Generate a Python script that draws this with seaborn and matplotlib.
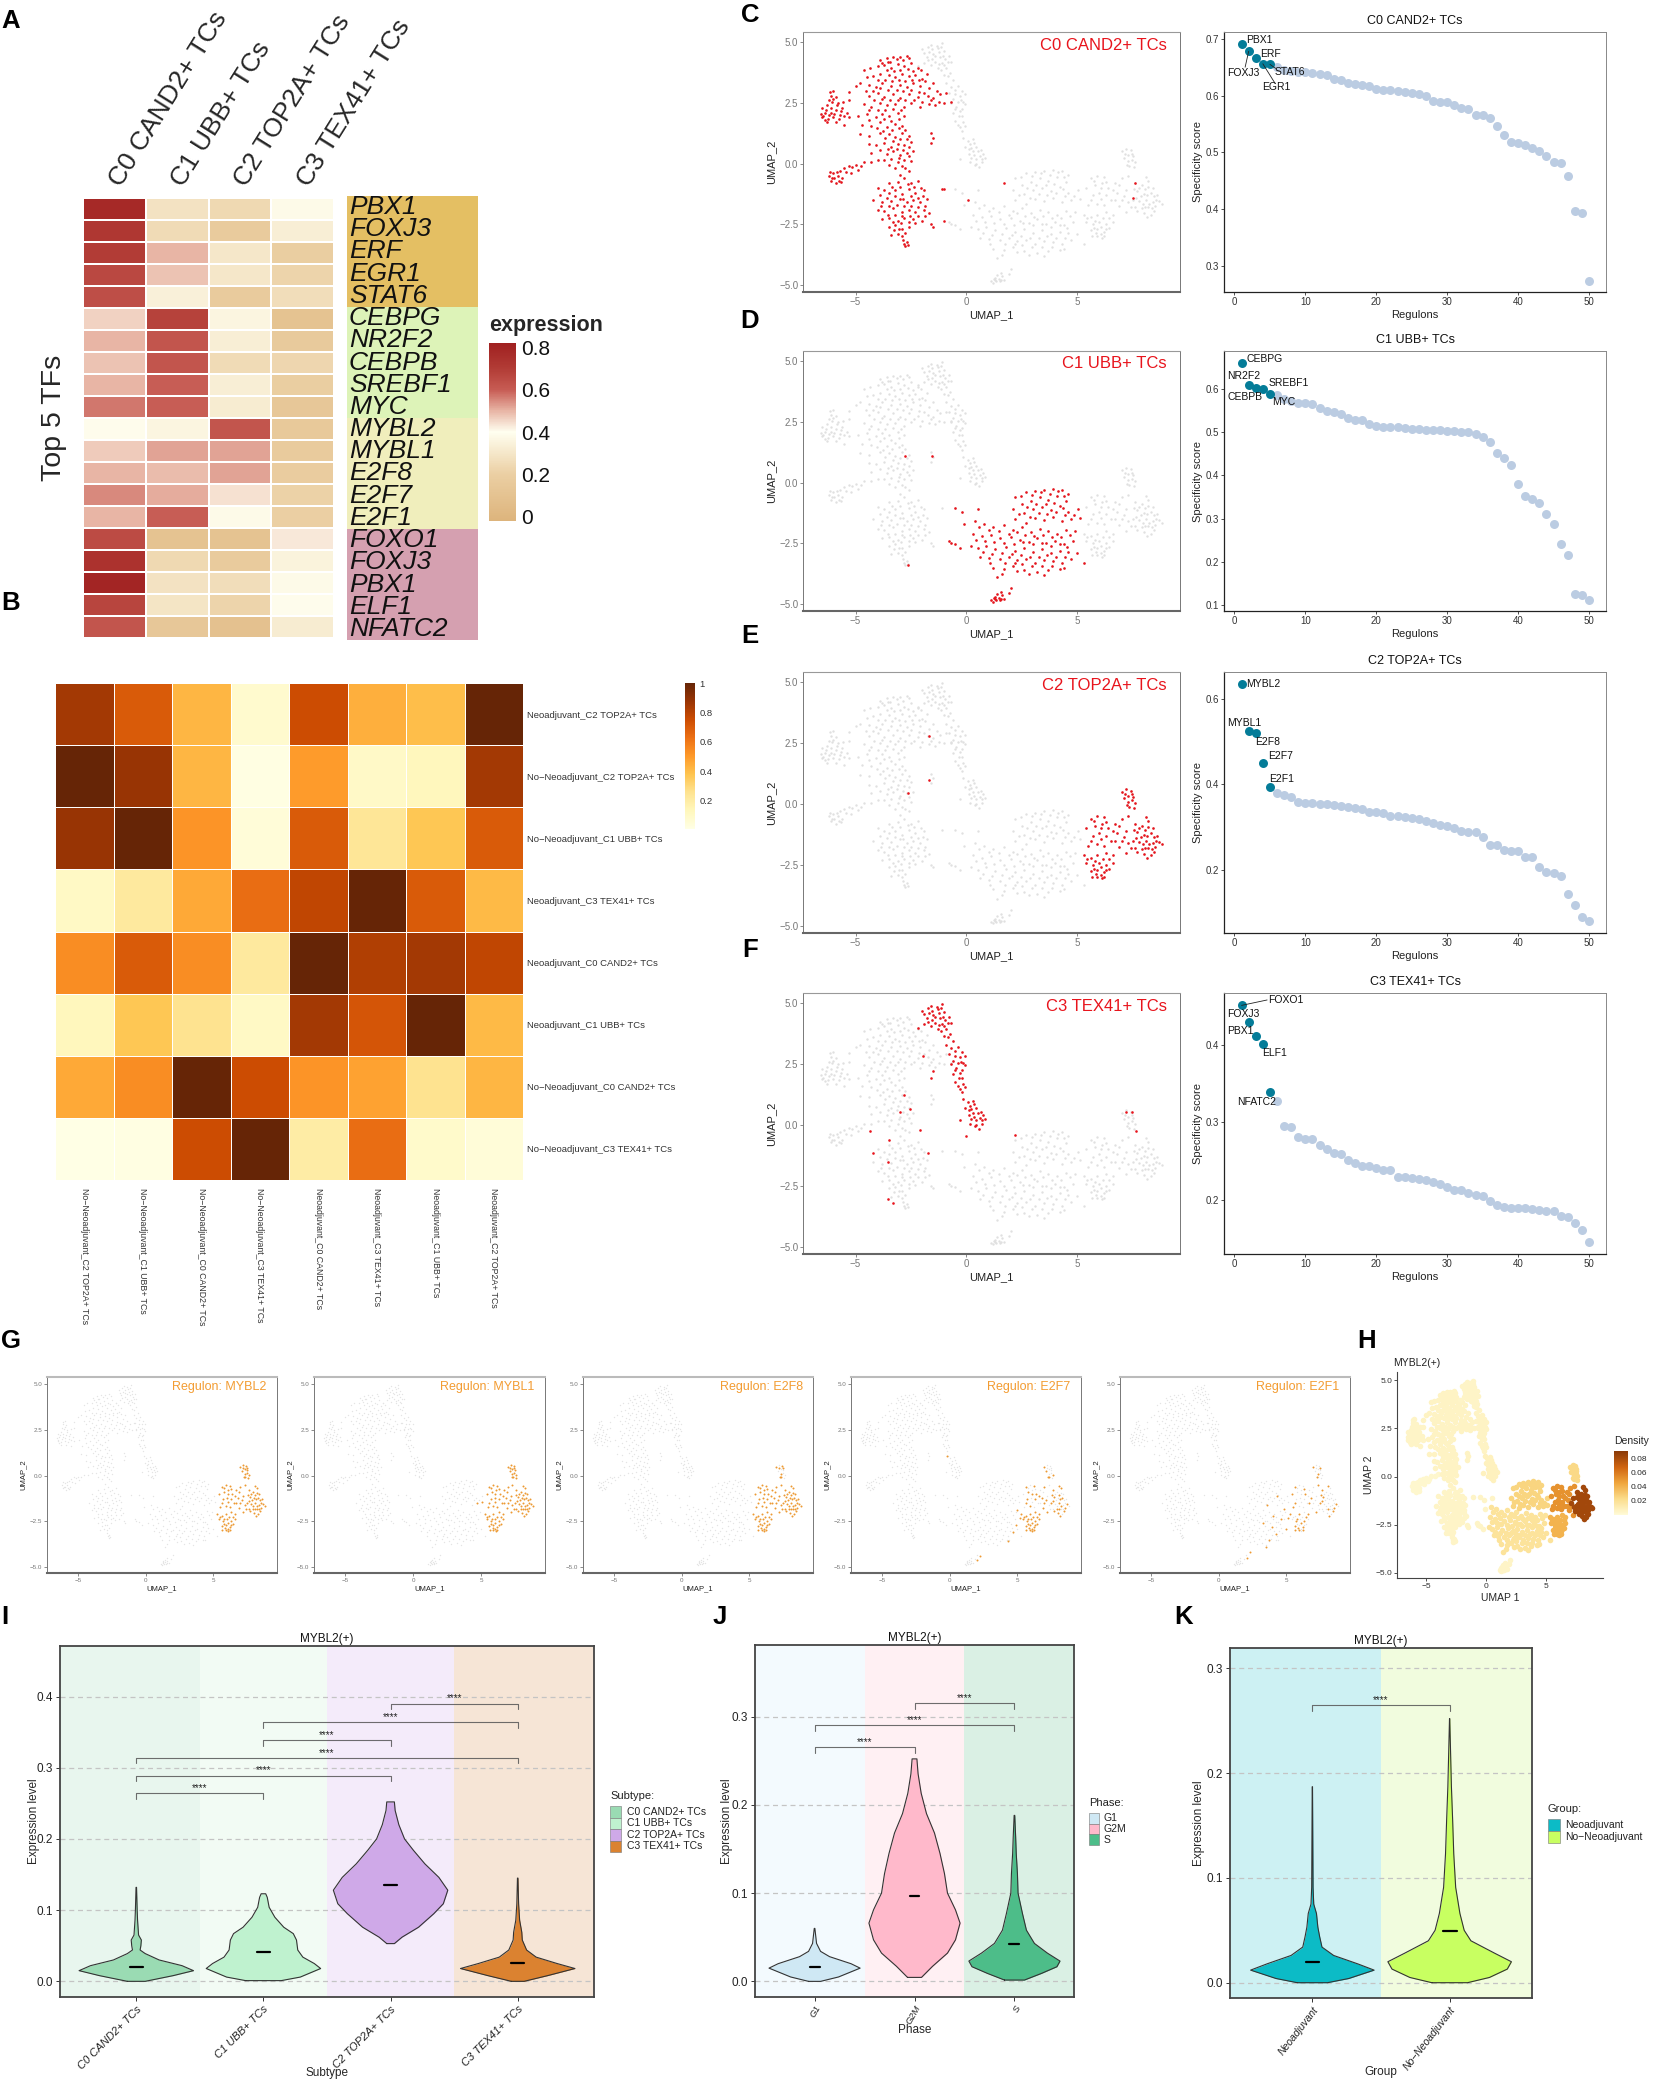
import numpy as np
import seaborn as sns
import matplotlib.pyplot as plt
from matplotlib.colors import LinearSegmentedColormap, Normalize
from matplotlib.cm import ScalarMappable
from matplotlib.patches import Rectangle
from matplotlib.transforms import ScaledTranslation

W, H = 1654, 2086

# --- panel A ---
tf_clusters = ['C0 CAND2+ TCs', 'C1 UBB+ TCs', 'C2 TOP2A+ TCs', 'C3 TEX41+ TCs']
tf_names = ['PBX1', 'FOXJ3', 'ERF', 'EGR1', 'STAT6', 'CEBPG', 'NR2F2', 'CEBPB', 'SREBF1', 'MYC',
            'MYBL2', 'MYBL1', 'E2F8', 'E2F7', 'E2F1', 'FOXO1', 'FOXJ3', 'PBX1', 'ELF1', 'NFATC2']
tf_expr = [[.78, .28, .24, .38], [.72, .25, .17, .33], [.70, .50, .30, .19], [.66, .48, .30, .22],
           [.64, .34, .17, .26], [.46, .68, .36, .10], [.50, .62, .33, .16], [.48, .62, .25, .23],
           [.50, .60, .33, .19], [.57, .60, .32, .14], [.39, .36, .62, .15], [.47, .52, .52, .17],
           [.50, .49, .52, .18], [.55, .51, .44, .21], [.50, .60, .38, .20], [.65, .10, .10, .43],
           [.74, .24, .17, .35], [.80, .28, .26, .38], [.67, .29, .22, .39], [.62, .14, .09, .32]]
strip_colors = ['#E4BF63', '#DDF3B8', '#F0EEBC', '#D5A0B0']

# --- panel B ---
corr_rows = ['Neoadjuvant_C2 TOP2A+ TCs', 'No\u2212Neoadjuvant_C2 TOP2A+ TCs', 'No\u2212Neoadjuvant_C1 UBB+ TCs',
             'Neoadjuvant_C3 TEX41+ TCs', 'Neoadjuvant_C0 CAND2+ TCs', 'Neoadjuvant_C1 UBB+ TCs',
             'No\u2212Neoadjuvant_C0 CAND2+ TCs', 'No\u2212Neoadjuvant_C3 TEX41+ TCs']
corr_cols = ['No\u2212Neoadjuvant_C2 TOP2A+ TCs', 'No\u2212Neoadjuvant_C1 UBB+ TCs', 'No\u2212Neoadjuvant_C0 CAND2+ TCs',
             'No\u2212Neoadjuvant_C3 TEX41+ TCs', 'Neoadjuvant_C0 CAND2+ TCs', 'Neoadjuvant_C3 TEX41+ TCs',
             'Neoadjuvant_C1 UBB+ TCs', 'Neoadjuvant_C2 TOP2A+ TCs']
corr_vals = [[.85, .70, .42, .08, .75, .44, .40, 1],
             [1, .88, .42, .02, .50, .10, .13, .85],
             [.88, 1, .52, .05, .70, .24, .37, .70],
             [.11, .22, .46, .64, .78, 1, .70, .41],
             [.54, .70, .54, .22, 1, .82, .85, .78],
             [.13, .37, .26, .11, .85, .72, 1, .41],
             [.46, .54, 1, .75, .52, .48, .26, .42],
             [.01, .02, .75, 1, .20, .64, .09, .05]]

# --- UMAP cells, by cluster ---
c0_left = [(-6.5,1.9),(-6.4,2.1),(-6.5,2.3),(-6.3,1.7),(-6.2,2.0),(-6.1,2.3),(-6.2,2.6),(-6.1,2.8),(-6.0,3.0),(-6.3,2.4),
           (-6.0,1.9),(-5.9,2.2),(-5.8,2.5),(-5.9,1.7),(-5.7,2.0),(-5.6,2.3),(-5.5,1.6),(-5.4,2.1),(-5.3,2.6),(-6.4,1.8),
           (-6.05,2.55),(-5.75,1.85),(-6.15,2.95),(-5.9,2.75),(-6.55,2.05),(-5.5,1.95),
           (-6.35,2.2),(-6.25,1.85),(-5.95,2.05),(-5.65,2.15),(-6.1,2.1),(-5.85,2.4),(-6.0,2.65),(-6.45,1.95),(-5.55,2.55),(-5.3,1.9)]
c0_arm = [(-6.2,-0.5),(-6.1,-0.7),(-6.0,-0.4),(-5.9,-0.8),(-5.8,-0.5),(-5.7,-0.3),(-5.6,-0.6),(-5.5,-0.2),(-5.3,-0.1),
          (-5.2,-0.4),(-5.0,-0.05),(-4.9,-0.25),(-6.05,-0.6),(-5.85,-0.35),(-5.65,-0.75),(-4.6,0.05),(-4.3,0.05),(-4.0,0.15),
          (-6.15,-0.35),(-5.95,-0.6),(-5.75,-0.7),(-5.45,-0.35),(-5.15,-0.15),(-4.75,-0.1)]
c0_upper = [(-3.9,4.25),(-3.6,4.35),(-3.3,4.4),(-3.0,4.4),(-2.7,4.45),(-3.45,4.2),(-4.0,4.0),(-3.7,4.05),(-3.4,3.95),
            (-3.1,4.1),(-2.8,4.0),(-2.5,4.15),(-2.2,3.95),(-4.6,3.85),(-4.2,3.6),(-3.9,3.7),(-3.5,3.65),(-3.2,3.55),
            (-2.9,3.7),(-2.6,3.6),(-2.3,3.65),(-2.0,3.5),(-1.8,3.7),(-5.0,3.2),(-4.8,3.3),(-4.4,3.25),(-4.1,3.15),
            (-3.8,3.3),(-3.4,3.2),(-3.0,3.25),(-2.7,3.15),(-2.4,3.3),(-2.1,3.2),(-1.7,3.1),(-1.5,3.3),(-5.3,2.95),
            (-4.4,2.8),(-4.0,2.9),(-3.7,2.75),(-3.3,2.85),(-3.0,2.7),(-2.6,2.85),(-2.2,2.75),(-1.9,2.9),(-1.5,2.7),
            (-1.2,2.85),(-0.9,2.9),(-4.6,2.45),(-4.3,2.35),(-3.9,2.5),(-3.6,2.4),(-3.2,2.45),(-2.8,2.35),(-2.5,2.5),
            (-2.1,2.35),(-1.7,2.45),(-1.4,2.4),(-1.0,2.5),(-0.7,2.55),(-4.9,1.95),(-4.5,2.05),(-4.1,1.9),(-3.8,2.05),
            (-3.5,1.95),(-3.1,2.1),(-4.7,1.6),(-4.3,1.55),(-3.9,1.7),(-3.6,1.5),(-3.2,1.65),(-2.9,1.55),
            (-4.5,3.55),(-4.35,3.95),(-3.8,4.15),(-3.55,4.2),(-3.15,4.3),(-2.85,4.25),(-2.6,4.35),(-3.25,3.8),(-3.6,3.85),
            (-3.0,3.85),(-2.65,3.9),(-2.4,3.8),(-2.05,3.85),(-4.0,3.45),(-3.65,3.45),(-3.35,3.4),(-3.05,3.45),(-2.75,3.4),
            (-2.45,3.45),(-2.15,3.45),(-1.85,3.4),(-4.55,3.0),(-4.2,3.0),(-3.9,3.1),(-3.55,3.05),(-3.15,3.05),(-2.85,3.0),
            (-2.5,3.05),(-2.15,2.95),(-1.75,2.8),(-1.35,3.0),(-4.15,2.6),(-3.8,2.65),(-3.45,2.6),(-3.1,2.6),(-2.75,2.6),
            (-2.35,2.6),(-2.0,2.55),(-1.6,2.6),(-1.25,2.55),(-4.4,2.2),(-4.0,2.2),(-3.65,2.2),(-3.3,2.25),(-2.95,2.2),
            (-3.4,1.75),(-3.7,1.85),(-3.05,1.85),(-2.8,1.95),(-4.4,1.8),(-4.05,1.45)]
c0_mid = [(-4.8,1.2),(-4.4,1.15),(-3.9,1.25),(-3.5,1.2),(-3.2,1.1),(-2.9,1.25),(-2.6,1.15),(-1.6,1.25),(-1.5,1.05),
          (-4.4,0.8),(-4.1,0.75),(-3.7,0.85),(-3.4,0.7),(-3.1,0.8),(-2.8,0.75),(-2.5,0.9),(-1.6,0.85),(-4.3,0.45),
          (-3.9,0.55),(-3.6,0.4),(-3.3,0.5),(-3.0,0.35),(-2.7,0.45),(-2.4,0.5),(-3.7,0.15),(-3.4,0.2),(-3.1,0.05),
          (-2.8,0.15),(-2.5,0.1),(-3.2,-0.2),(-2.9,-0.1),(-2.6,-0.3),
          (-3.75,1.35),(-3.35,1.4),(-3.05,1.45),(-2.75,1.4),(-3.65,1.05),(-3.3,0.95),(-3.0,1.0),(-2.7,1.0),(-2.6,0.7),
          (-3.55,0.6),(-3.15,0.6),(-2.85,0.55),(-2.6,0.3),(-3.5,-0.05),(-3.05,0.25),(-2.75,-0.2),(-3.0,-0.45)]
c0_lower = [(-4.0,-1.0),(-3.5,-0.8),(-3.1,-0.75),(-2.8,-0.6),(-2.5,-0.8),(-2.2,-0.7),(-3.9,-1.3),(-3.5,-1.2),(-3.2,-1.1),
            (-2.9,-1.25),(-2.6,-1.05),(-2.3,-1.2),(-1.9,-1.1),(-1.1,-1.05),(-4.2,-1.5),(-3.8,-1.6),(-3.4,-1.55),(-3.0,-1.45),
            (-2.7,-1.6),(-2.4,-1.5),(-2.1,-1.6),(-1.8,-1.45),(-4.0,-1.9),(-3.7,-1.95),(-3.3,-1.85),(-2.9,-2.0),(-2.6,-1.9),
            (-2.3,-2.0),(-1.9,-1.9),(-1.7,-2.05),(-3.8,-2.3),(-3.5,-2.25),(-3.1,-2.35),(-2.8,-2.25),(-2.4,-2.3),(-2.0,-2.35),
            (-1.6,-2.5),(-1.5,-2.6),(-3.5,-2.6),(-3.2,-2.55),(-2.9,-2.7),(-2.6,-2.6),(-3.4,-2.95),(-3.1,-2.9),(-2.9,-3.0),
            (-2.8,-3.3),(-2.75,-3.4),(-2.7,-3.25),
            (-3.7,-1.1),(-3.35,-0.95),(-3.0,-0.95),(-2.65,-0.85),(-2.35,-0.95),(-2.05,-1.0),(-3.6,-1.4),(-3.2,-1.35),(-2.85,-1.45),
            (-2.5,-1.35),(-2.2,-1.4),(-1.95,-1.35),(-3.85,-1.75),(-3.5,-1.75),(-3.15,-1.7),(-2.8,-1.75),(-2.5,-1.75),(-2.2,-1.8),
            (-1.85,-1.75),(-3.55,-2.1),(-3.2,-2.1),(-2.9,-2.15),(-2.55,-2.15),(-2.2,-2.15),(-1.85,-2.15),(-3.3,-2.4),(-2.95,-2.45),
            (-2.6,-2.4),(-2.3,-2.45),(-3.25,-2.75),(-2.75,-2.85),(-3.05,-2.7),(-2.65,-3.35),(-2.85,-3.15)]
c1_upper = [(2.2,-0.6),(2.7,-0.4),(3.1,-0.35),(3.5,-0.3),(3.9,-0.25),(4.3,-0.3),(4.6,-0.45),(2.5,-0.9),(2.9,-0.75),(3.3,-0.6),
            (3.7,-0.7),(4.1,-0.55),(4.5,-0.75),(2.1,-1.1),(2.6,-1.25),(3.0,-1.1),(3.4,-1.0),(3.8,-1.15),(4.2,-0.95),(4.6,-1.2),
            (5.05,-1.1),(2.2,-1.5),(2.7,-1.65),(3.1,-1.45),(3.5,-1.55),(3.9,-1.4),(4.3,-1.6),(4.7,-1.5),(5.1,-1.45),
            (2.45,-0.55),(2.95,-0.5),(3.35,-0.4),(3.75,-0.45),(4.15,-0.35),(4.4,-0.55),(2.75,-1.0),(3.15,-0.9),(3.6,-0.9),(3.95,-0.85),
            (4.35,-1.05),(2.35,-1.3),(2.85,-1.4),(3.25,-1.25),(3.65,-1.3),(4.05,-1.2),(4.45,-1.35),(4.85,-1.35)]
c1_low = [(0.4,-1.6),(0.8,-1.7),(1.2,-1.85),(1.7,-1.75),(2.1,-1.95),(2.5,-1.85),(2.9,-2.05),(3.3,-1.9),(3.7,-2.0),(4.1,-2.1),
          (4.5,-1.95),(4.9,-2.0),(0.3,-2.1),(0.7,-2.2),(1.1,-2.15),(1.5,-2.3),(2.0,-2.25),(2.4,-2.35),(2.8,-2.45),(3.2,-2.3),
          (3.6,-2.5),(4.0,-2.4),(4.4,-2.55),(4.8,-2.4),(0.2,-2.6),(0.5,-2.7),(0.9,-2.6),(1.3,-2.75),(1.8,-2.65),(2.2,-2.8),
          (2.6,-2.7),(3.0,-2.85),(3.4,-2.75),(3.8,-2.9),(4.2,-2.8),(4.6,-2.85),(5.0,-2.9),(0.6,-3.05),(1.0,-3.1),(1.5,-3.15),
          (1.9,-3.05),(2.3,-3.2),(2.7,-3.15),(3.1,-3.3),(3.5,-3.2),(3.9,-3.25),(4.3,-3.3),(4.7,-3.15),(5.3,-3.3),(1.2,-3.5),
          (1.7,-3.55),(2.1,-3.45),(2.6,-3.6),(3.2,-3.7),(3.7,-3.6),(4.2,-3.55),(1.4,-3.9),
          (0.55,-1.85),(1.0,-1.95),(1.45,-2.0),(1.9,-2.1),(2.3,-2.05),(2.65,-2.15),(3.05,-2.2),(3.45,-2.15),(3.85,-2.25),(4.25,-2.25),
          (4.65,-2.15),(0.45,-2.35),(0.85,-2.4),(1.25,-2.45),(1.7,-2.5),(2.15,-2.55),(2.55,-2.45),(3.0,-2.55),(3.4,-2.5),(3.8,-2.6),
          (4.2,-2.55),(4.55,-2.65),(0.75,-2.85),(1.15,-2.95),(1.6,-2.9),(2.05,-2.95),(2.45,-3.0),(2.85,-3.05),(3.25,-3.05),(3.65,-3.0),
          (4.05,-3.05),(4.45,-3.05),(1.75,-3.3),(2.2,-3.3),(2.5,-3.35),(2.95,-3.45),(3.4,-3.45),(3.85,-3.45),(4.4,-3.5),(2.3,-3.65),
          (2.8,-3.75),(3.5,-3.8),(1.6,-3.75),(1.05,-3.3)]
c1_tail = [(1.1,-4.85),(1.3,-4.8),(1.5,-4.85),(1.7,-4.8),(1.4,-4.6),(1.55,-4.5),(1.3,-4.7),(1.6,-4.65),(1.9,-4.55),(2.0,-4.35),
           (1.2,-4.9),(-0.8,-2.4),(-0.7,-2.5),(-0.5,-2.55),(-0.3,-2.7),(-0.1,-1.7),(-0.5,-1.05),(-0.2,-1.2),(0.5,-1.1),
           (1.25,-4.75),(1.45,-4.75),(1.55,-4.78),(1.35,-4.85)]
c2_core = [(7.6,-0.8),(7.9,-0.9),(8.2,-0.7),(8.4,-1.0),(7.7,-1.15),(8.0,-1.25),(8.3,-1.2),(8.6,-1.3),(7.5,-1.5),(7.8,-1.55),
           (8.1,-1.5),(8.4,-1.6),(8.7,-1.55),(7.6,-1.8),(7.9,-1.85),(8.2,-1.8),(8.5,-1.75),(8.8,-1.65),(8.0,-2.05),(8.3,-2.1),
           (8.45,-1.95),(7.3,-1.6),(7.1,-1.35),(7.2,-1.1),(8.1,-0.55),
           (7.8,-1.0),(8.05,-1.05),(8.2,-0.95),(7.55,-1.05),(7.85,-1.35),(8.15,-1.3),(8.45,-1.35),(7.65,-1.4),(7.95,-1.65),(8.25,-1.65),
           (8.55,-1.5),(8.05,-1.8),(8.35,-1.85),(7.7,-1.95),(7.4,-1.8),(8.15,-2.2)]
c2_outer = [(5.6,-0.6),(5.9,-0.5),(6.2,-0.55),(5.4,-1.0),(5.8,-0.9),(6.1,-0.8),(6.4,-1.0),(6.7,-0.8),(7.0,-0.6),(7.3,-0.5),
            (5.7,-1.3),(6.0,-1.2),(6.8,-1.2),(6.5,-1.5),(6.9,-1.75),(5.5,-1.7),(5.9,-1.65),(6.2,-1.7),(7.2,-2.0),
            (5.75,-0.7),(6.05,-1.0),(6.3,-0.75),(6.6,-1.1),(6.9,-0.9),(5.6,-1.5),(6.05,-1.45),(6.3,-1.3),(6.7,-1.5),(7.0,-1.5)]
c2_low = [(5.3,-2.1),(5.6,-2.2),(5.9,-2.1),(6.3,-2.0),(6.6,-2.1),(5.4,-2.4),(5.7,-2.5),(6.0,-2.4),(6.3,-2.5),(6.6,-2.4),
          (5.6,-2.75),(5.9,-2.7),(6.2,-2.8),(6.45,-2.65),(5.9,-3.0),(6.1,-3.05),(5.65,-3.0),
          (5.45,-2.25),(5.8,-2.35),(6.15,-2.25),(6.45,-2.25),(5.75,-2.65),(6.05,-2.6),(6.3,-2.7),(5.85,-2.85),(6.05,-2.9),(6.2,-3.0)]
c2_tail = [(7.0,0.5),(7.2,0.6),(7.4,0.55),(7.1,0.25),(7.3,0.1),(7.5,0.3),(7.35,-0.1),(7.55,-0.15),(7.45,0.4),(7.6,0.05),
           (7.15,0.4),(7.3,0.35),(7.25,-0.05),(7.45,0.15)]
c3_top = [(-2.2,4.0),(-2.0,4.7),(-1.8,4.4),(-1.6,4.9),(-1.5,4.5),(-1.3,4.75),(-1.1,4.95),(-1.9,4.15),(-1.7,4.6),(-1.4,4.2),
          (-1.2,4.4),(-1.0,4.65),(-0.8,4.45),(-0.7,4.2),(-1.6,4.05),(-1.3,3.95),(-1.1,4.15),(-0.9,3.95),(-1.0,3.65),(-0.75,3.75),
          (-1.9,4.55),(-1.75,4.8),(-1.55,4.7),(-1.4,4.45),(-1.25,4.6),(-1.05,4.45),(-1.35,4.85),(-1.15,4.8),(-0.95,4.3),(-1.55,4.3),
          (-1.75,4.25),(-1.25,4.1),(-1.0,4.05),(-0.85,4.2),(-1.15,3.85),(-0.85,3.6)]
c3_mid = [(-0.9,3.3),(-0.6,3.45),(-0.4,3.2),(-0.2,3.0),(-0.8,2.9),(-0.5,2.85),(-0.25,2.6),(-0.05,2.85),(-0.7,2.5),(-0.45,2.35),
          (-0.2,2.25),(-0.05,2.45),(-0.6,2.1),(-0.35,1.95),(-0.15,1.7),(-0.05,1.55),(-0.5,1.75),(-0.3,1.5),
          (-0.7,3.15),(-0.5,3.05),(-0.3,2.8),(-0.6,2.65),(-0.4,2.55),(-0.15,2.55),(-0.3,2.15),(-0.5,2.25),(-0.2,1.95),(-0.4,1.6),(-0.2,1.35)]
c3_low = [(-0.15,1.05),(0.05,0.95),(0.3,1.0),(-0.05,0.7),(0.2,0.65),(0.45,0.7),(0.65,0.55),(0.1,0.4),(0.35,0.35),(0.6,0.3),
          (0.85,0.25),(-0.3,0.2),(0.15,0.05),(0.45,0.0),(0.55,-0.15),(0.7,0.05),
          (0.15,0.8),(0.35,0.85),(0.1,0.6),(0.3,0.5),(0.5,0.5),(0.75,0.4),(0.2,0.25),(0.45,0.2),(0.7,0.2),(0.4,-0.05)]

c0_cells = c0_left + c0_arm + c0_upper + c0_mid + c0_lower
c1_cells = c1_upper + c1_low + c1_tail
c2_cells = c2_core + c2_outer + c2_low + c2_tail
c3_cells = c3_top + c3_mid + c3_low
all_cells = c0_cells + c1_cells + c2_cells + c3_cells

stray_c0 = [(1.7,-0.8),(0.05,-1.5),(7.6,-0.8),(7.5,-1.4),(-1.0,-1.05),(-1.0,-2.35)]
stray_c1 = [(-2.75,1.1),(-1.55,1.1),(-2.65,-3.4)]
stray_c2 = [(-1.7,2.8),(-1.7,1.0),(-2.65,0.45)]
stray_c3 = [(-2.8,1.25),(-2.55,0.65),(-3.0,0.55),(-4.35,-0.25),(-2.1,-0.2),(-3.5,-0.6),(-4.2,-1.15),(-3.55,-1.5),(-1.75,-1.15),
            (0.0,-0.45),(2.2,-0.4),(7.2,0.55),(7.45,0.55),(7.65,-0.25),(-3.55,-3.05),(-3.3,-3.2),(-1.95,2.85),(-1.6,1.95),(-1.5,2.2)]

extra_e2f7 = [(5.2,-2.3),(4.9,-2.7),(4.7,-3.1),(4.3,-3.6),(2.2,-4.4),(2.0,-4.6),(5.0,-1.9),(-0.2,1.1)]
extra_e2f1 = [(3.6,-1.6),(4.0,-2.2),(3.9,-2.8),(4.2,-3.2),(3.7,-3.5),(4.3,-1.1),(3.3,-2.6),(4.6,-2.4),(4.8,-1.8),(2.1,-4.5),
              (2.3,-4.2),(5.1,-2.3),(5.0,-2.9),(3.5,-3.9)]
regulon_names = ['MYBL2', 'MYBL1', 'E2F8', 'E2F7', 'E2F1']
regulon_hits = [c2_cells, c2_cells + c1_upper[27:29], c2_core + c2_outer + c2_low + c2_tail[::2],
                c2_core[::2] + c2_outer[::2] + c2_low + c2_tail[::3] + extra_e2f7,
                c2_core[::4] + c2_outer[::3] + c2_low[::2] + c2_tail[::4] + extra_e2f1]

# density of MYBL2(+) per group of cells
density_groups = [c0_left, c0_arm, c0_upper, c0_mid, c0_lower, c3_top, c3_mid, c3_low, c1_tail, c1_low, c1_upper,
                  c2_tail, c2_low, c2_outer, c2_core]
density_vals = [.005, .003, .006, .006, .005, .005, .006, .008, .005, .018, .026, .024, .040, .052, .082]

# --- regulon specificity scores, rank 1..50 ---
ranks = list(range(1, 51))
rss_c0 = [.690,.678,.667,.656,.655,.650,.645,.643,.642,.641,.640,.638,.636,.630,.627,.622,.621,.618,.616,.612,.610,.609,.608,.606,.604,
          .602,.599,.590,.589,.588,.583,.578,.577,.566,.565,.560,.546,.531,.519,.517,.513,.508,.503,.494,.483,.482,.458,.396,.394,.273]
rss_c1 = [.660,.609,.602,.601,.588,.585,.578,.572,.568,.568,.566,.556,.550,.546,.542,.533,.528,.528,.518,.515,.513,.513,.512,.510,.508,
          .507,.505,.504,.504,.503,.503,.501,.500,.495,.490,.478,.452,.441,.423,.380,.352,.345,.336,.310,.288,.240,.216,.125,.124,.112]
rss_c2 = [.634,.525,.519,.450,.393,.380,.375,.370,.360,.357,.357,.355,.355,.353,.350,.347,.345,.343,.337,.335,.334,.327,.326,.325,.322,
          .320,.315,.310,.306,.304,.298,.292,.290,.289,.277,.260,.258,.247,.245,.244,.232,.232,.208,.197,.193,.187,.145,.119,.091,.083]
rss_c3 = [.451,.429,.412,.401,.339,.328,.295,.294,.281,.279,.279,.271,.266,.261,.259,.251,.247,.244,.243,.241,.238,.238,.229,.229,.228,
          .227,.225,.223,.220,.216,.213,.212,.209,.206,.205,.198,.193,.191,.190,.190,.189,.188,.187,.186,.186,.179,.178,.170,.161,.145]

# --- violin outlines: level, half width ---
subtype_names = tf_clusters
sub_y = [[0,.008,.015,.022,.03,.039,.044,.05,.058,.065,.086,.1,.132],
         [.001,.006,.018,.025,.034,.044,.058,.067,.076,.09,.104,.118,.123],
         [.053,.062,.076,.095,.109,.128,.146,.165,.184,.20,.22,.24,.252],
         [0,.008,.018,.025,.034,.044,.058,.069,.086,.109,.145]]
sub_w = [[.07,.29,.45,.36,.18,.07,.03,.036,.04,.018,.01,.007,.002],
         [.14,.29,.45,.40,.31,.27,.26,.235,.16,.09,.045,.03,.018],
         [.03,.09,.22,.34,.415,.45,.38,.27,.18,.11,.065,.036,.03],
         [.05,.235,.45,.31,.145,.07,.036,.032,.015,.007,.002]]
sub_mean = [.020, .041, .135, .026]
phase_names = ['G1', 'G2M', 'S']
phase_y = [[0,.005,.015,.02,.028,.034,.043,.06],
           [.0045,.017,.032,.047,.066,.081,.1,.122,.145,.168,.19,.213,.235,.252],
           [.0015,.009,.0166,.023,.032,.043,.058,.077,.1,.122,.145,.164,.188]]
phase_w = [[.06,.24,.456,.365,.15,.06,.02,.003],
           [.07,.18,.33,.41,.456,.41,.33,.30,.255,.2,.12,.067,.036,.024],
           [.1,.27,.425,.456,.33,.2,.12,.08,.036,.03,.018,.012,.003]]
phase_mean = [.0165, .0965, .042]
group_names = ['Neoadjuvant', 'No\u2212Neoadjuvant']
group_y = [[0,.004,.012,.018,.026,.034,.044,.053,.066,.075,.091,.187],
           [0,.005,.013,.02,.028,.04,.05,.066,.091,.123,.155,.187,.219,.252]]
group_w = [[.11,.265,.45,.33,.155,.07,.053,.04,.03,.01,.005,.001],
           [.13,.29,.42,.45,.33,.155,.106,.075,.044,.03,.022,.013,.007,.001]]
group_mean = [.020, .049]

sns.set_theme(style='white')
plt.rcParams['font.family'] = ['Liberation Sans', 'DejaVu Sans']
plt.rcParams['axes.unicode_minus'] = True

fig = plt.figure(figsize=(W / 100, H / 100), dpi=100, facecolor='white')


def add_ax(l, t, r, b):
    return fig.add_axes([l / W, 1 - b / H, (r - l) / W, (b - t) / H])


def split(cells):
    return [c[0] for c in cells], [c[1] for c in cells]


def tf_heat():
    cmap = LinearSegmentedColormap.from_list('tf', [(0, '#DDB47C'), (.262, '#EBCFA3'), (.5, '#FFFFF0'), (.619, '#E8B5A5'),
                                                    (.738, '#C75C54'), (.857, '#B23C36'), (1, '#A02020')])
    ax = add_ax(83, 198, 334, 638)
    cax = add_ax(489, 343, 516, 521)
    sns.heatmap(np.array(tf_expr), ax=ax, cmap=cmap, vmin=-.02, vmax=.82, linewidths=1.3, linecolor='white',
                cbar_ax=cax, xticklabels=tf_clusters, yticklabels=False)
    ax.xaxis.tick_top()
    ax.tick_params(length=0, pad=5)
    ax.set_xticklabels(tf_clusters, rotation=58, ha='left', rotation_mode='anchor', fontsize=19)
    for lab in ax.get_xticklabels():
        lab.set_transform(lab.get_transform() + ScaledTranslation(7.5 / 72, 0, fig.dpi_scale_trans))
    cax.set_yticks([0, .2, .4, .6, .8])
    cax.set_yticklabels(['0', '0.2', '0.4', '0.6', '0.8'], fontsize=15, color='#111111')
    cax.tick_params(axis='y', direction='in', color='white', length=4, width=.8, pad=4)
    fig.text(489 / W, 1 - 325 / H, 'expression', fontsize=15.5, fontweight='bold', va='center')
    fig.text(54 / W, 1 - 418 / H, 'Top 5 TFs', rotation=90, fontsize=20.5, va='center', ha='center')
    # strip with TF names
    sa = add_ax(347, 196, 478, 640)
    sa.set_xlim(0, 1)
    sa.set_ylim(20, 0)
    sa.axis('off')
    for i, c in enumerate(strip_colors):
        sa.axhspan(i * 5, (i + 1) * 5, color=c, lw=0)
    for i, n in enumerate(tf_names):
        sa.text(.015, i + .5, n, style='italic', fontsize=19, va='center', color='#111111')


def corr_heat():
    ax = add_ax(55, 683, 523, 1180)
    cax = add_ax(685, 683, 695, 829)
    sns.heatmap(np.array(corr_vals), ax=ax, cmap='YlOrBr', vmin=.01, vmax=1, linewidths=.6, linecolor='#FFFFFF',
                cbar_ax=cax, xticklabels=corr_cols, yticklabels=corr_rows)
    ax.yaxis.tick_right()
    ax.tick_params(axis='y', length=0, pad=3)
    ax.tick_params(axis='x', length=0, pad=6)
    ax.set_yticklabels(corr_rows, rotation=0, fontsize=6.8, color='#333333')
    ax.set_xticklabels(corr_cols, rotation=270, ha='center', va='top', fontsize=6.3, color='#333333')
    cax.set_yticks([.2, .4, .6, .8, 1])
    cax.set_yticklabels(['0.2', '0.4', '0.6', '0.8', '1'], fontsize=6.8, color='#333333')
    cax.tick_params(length=0, pad=3)
    ax.collections[0].colorbar.outline.set_visible(False)


def umap_frame(ax, tick_size, label_size, gray_top=False):
    ax.set_xlim(-7.37, 9.63)
    ax.set_ylim(-5.29, 5.42)
    ax.set_xticks([-5, 0, 5])
    ax.set_yticks([-5, -2.5, 0, 2.5, 5])
    ax.set_yticklabels(['\u22125.0', '\u22122.5', '0.0', '2.5', '5.0'])
    ax.tick_params(labelsize=tick_size, colors='#777777', length=2, width=.6, pad=1.5, bottom=True, left=True)
    ax.set_xlabel('UMAP_1', fontsize=label_size, color='#222222', labelpad=2)
    ax.set_ylabel('UMAP_2', fontsize=label_size, color='#222222', labelpad=2)
    for s in ['left', 'right']:
        ax.spines[s].set_color('#777777')
        ax.spines[s].set_linewidth(.7)
    ax.spines['bottom'].set_color('#666666')
    ax.spines['bottom'].set_linewidth(1.5)
    ax.spines['top'].set_color('#BBBBBB' if gray_top else '#999999')
    ax.spines['top'].set_linewidth(1.5 if gray_top else .8)


def umap_panel(box, cells, stray, name):
    ax = add_ax(*box)
    gx, gy = split(all_cells)
    sns.scatterplot(x=gx, y=gy, color='#E0E0E0', s=3, linewidth=0, ax=ax, legend=False)
    rx, ry = split(cells + stray)
    sns.scatterplot(x=rx, y=ry, color='#E8141C', s=3.5, linewidth=0, ax=ax, legend=False)
    umap_frame(ax, 7, 8)
    ax.text(.965, .95, name, transform=ax.transAxes, color='#E8141C', fontsize=12, ha='right', va='center')


def rss_panel(box, scores, title, ylim, yticks, labels, links):
    ax = add_ax(*box)
    sns.scatterplot(x=ranks[5:], y=scores[5:], color='#BBCCE2', s=42, linewidth=0, ax=ax, legend=False)
    sns.scatterplot(x=ranks[:5], y=scores[:5], color='#047C98', s=42, linewidth=0, ax=ax, legend=False)
    ax.set_xlim(-1.48, 52.4)
    ax.set_ylim(*ylim)
    ax.set_xticks([0, 10, 20, 30, 40, 50])
    ax.set_yticks(yticks)
    ax.tick_params(labelsize=7, colors='#333333', length=2, width=.6, pad=1.5, bottom=True, left=True)
    ax.set_xlabel('Regulons', fontsize=8, labelpad=2, color='#222222')
    ax.set_ylabel('Specificity score', fontsize=8, labelpad=2, color='#222222')
    ax.set_title(title, fontsize=9, pad=6, color='#111111')
    for s in ['left', 'bottom']:
        ax.spines[s].set_color('#222222')
        ax.spines[s].set_linewidth(.9)
    for s in ['top', 'right']:
        ax.spines[s].set_color('#888888')
        ax.spines[s].set_linewidth(.7)
    for n, lx, ly in labels:
        ax.text(lx, ly, n, fontsize=7.5, va='center', color='#111111')
    for x0, y0, x1, y1 in links:
        ax.plot([x0, x1], [y0, y1], color='#222222', lw=.6)


def regulon_panel(box, hits, name):
    ax = add_ax(*box)
    gx, gy = split(all_cells)
    sns.scatterplot(x=gx, y=gy, color='#E4E4E4', s=1, linewidth=0, ax=ax, legend=False)
    hx, hy = split(hits)
    sns.scatterplot(x=hx, y=hy, color='#EE9A32', s=2, linewidth=0, ax=ax, legend=False)
    umap_frame(ax, 4.5, 5.5, gray_top=True)
    ax.set_xlim(-7.3, 9.7)
    ax.set_ylim(-5.33, 5.4)
    ax.text(.955, .95, 'Regulon: ' + name, transform=ax.transAxes, color='#F39C32', fontsize=9, ha='right', va='center')


def density_panel():
    ax = add_ax(1397, 1372, 1603, 1578)
    cmap = LinearSegmentedColormap.from_list('d', ['#FFFBD8', '#FBDD8C', '#F0A63C', '#CF6410', '#8A3A08'])
    norm = Normalize(0, .09)
    for cells, d in zip(density_groups, density_vals):
        dx, dy = split(cells)
        sns.scatterplot(x=dx, y=dy, color=cmap(norm(d)), s=16, linewidth=0, ax=ax, legend=False)
    ax.set_xlim(-7.46, 9.74)
    ax.set_ylim(-5.26, 5.43)
    ax.set_xticks([-5, 0, 5])
    ax.set_yticks([-5, -2.5, 0, 2.5, 5])
    ax.set_yticklabels(['\u22125.0', '\u22122.5', '0.0', '2.5', '5.0'])
    ax.tick_params(labelsize=6, colors='#333333', length=2, width=.6, pad=1.5, bottom=True, left=True)
    ax.set_xlabel('UMAP 1', fontsize=7.5, labelpad=2)
    ax.set_ylabel('UMAP 2', fontsize=7.5, labelpad=1)
    ax.text(-7.75, 5.9, 'MYBL2(+)', fontsize=7.5, va='center', color='#222222')
    sns.despine(ax=ax)
    for s in ['left', 'bottom']:
        ax.spines[s].set_color('#444444')
        ax.spines[s].set_linewidth(.8)
    cax = add_ax(1614, 1451, 1628, 1515)
    cb = fig.colorbar(ScalarMappable(norm=norm, cmap=cmap), cax=cax)
    cb.set_ticks([.02, .04, .06, .08])
    cb.set_ticklabels(['0.02', '0.04', '0.06', '0.08'])
    cb.outline.set_visible(False)
    cax.tick_params(labelsize=6, length=0, pad=2)
    fig.text(1614 / W, 1 - 1441 / H, 'Density', fontsize=7.5, va='center')


def violin_panel(box, names, ys, ws, means, colors, bands, xlim, ylim, yticks, brackets, xlabel, rot, tick_size,
                 xlabel_y, ylabel_pad):
    ax = add_ax(*box)
    ax.set_xlim(*xlim)
    ax.set_ylim(*ylim)
    edges = [xlim[0]] + [i + 1.5 for i in range(len(names) - 1)] + [xlim[1]]
    for i, c in enumerate(bands):
        ax.axvspan(edges[i], edges[i + 1], color=c, lw=0, zorder=0)
    for t in yticks:
        ax.axhline(t, color='#C4C4C4', lw=.9, ls=(0, (4, 3)), zorder=1)
    for i, (y, w) in enumerate(zip(ys, ws)):
        y, w = np.array(y), np.array(w)
        ax.fill_betweenx(y, i + 1 - w, i + 1 + w, color=colors[i], lw=0, zorder=2)
        ax.plot(np.r_[i + 1 - w, (i + 1 + w)[::-1], i + 1 - w[0]], np.r_[y, y[::-1], y[0]], color='#333333', lw=.8, zorder=3)
        ax.plot([i + 1 - .05, i + 1 + .05], [means[i], means[i]], color='black', lw=1.6, zorder=4)
    tick_h = .008 * (ylim[1] - ylim[0]) / .493
    for a, b, lev in brackets:
        ax.plot([a, a, b, b], [lev - tick_h, lev, lev, lev - tick_h], color='#555555', lw=.8, alpha=.85, zorder=3)
        ax.text((a + b) / 2, lev + .9 * tick_h, '****', fontsize=7, ha='center', va='center', color='#222222')
    ax.set_xticks(range(1, len(names) + 1))
    ax.set_xticklabels(names, rotation=rot, ha='right', rotation_mode='anchor', style='italic', fontsize=tick_size, color='#222222')
    ax.set_yticks(yticks)
    ax.set_yticklabels(['%.1f' % t for t in yticks], fontsize=8.5, color='#222222')
    ax.tick_params(length=3, width=.7, pad=2, bottom=True, left=True, color='#333333')
    ax.set_xlabel(xlabel, fontsize=8.5, va='center')
    ax.xaxis.set_label_coords(.5, (box[3] - xlabel_y) / (box[3] - box[1]))
    ax.set_ylabel('Expression level', fontsize=8.5, labelpad=ylabel_pad)
    ax.set_title('MYBL2(+)', fontsize=8.5, pad=3, color='#111111')
    for s in ax.spines.values():
        s.set_color('#444444')
        s.set_linewidth(1.3)


def legend_px(ov, title, names, colors, x0, x1, top, bottom, title_y, text_x):
    ov.text(x0, title_y, title, fontsize=8, va='center', color='#222222')
    h = (bottom - top) / len(names)
    for i, (n, c) in enumerate(zip(names, colors)):
        ov.add_patch(Rectangle((x0, top + i * h), x1 - x0, h, facecolor=c, edgecolor='#777777', lw=.4))
        ov.text(text_x, top + (i + .5) * h, n, fontsize=7.5, va='center', color='#222222')


tf_heat()
corr_heat()

umap_panel((803, 32, 1180, 292), c0_cells, stray_c0, 'C0 CAND2+ TCs')
umap_panel((803, 351, 1180, 611), c1_cells, stray_c1, 'C1 UBB+ TCs')
umap_panel((803, 672, 1180, 933), c2_cells, stray_c2, 'C2 TOP2A+ TCs')
umap_panel((803, 993, 1180, 1254), c3_cells, stray_c3, 'C3 TEX41+ TCs')

rss_panel((1224, 32, 1606, 292), rss_c0, 'C0 CAND2+ TCs', (.254, .712), [.3, .4, .5, .6, .7],
          [('PBX1', 1.65, .698), ('ERF', 3.6, .673), ('FOXJ3', -1, .64), ('STAT6', 5.7, .641), ('EGR1', 3.9, .615)],
          [(2, .678, 1.5, .65), (4, .656, 5.7, .622), (5, .655, 5.8, .648)])
rss_panel((1224, 351, 1606, 611), rss_c1, 'C1 UBB+ TCs', (.086, .688), [.1, .2, .3, .4, .5, .6],
          [('CEBPG', 1.65, .67), ('NR2F2', -1, .629), ('SREBF1', 4.85, .615), ('CEBPB', -1, .581), ('MYC', 5.25, .569)], [])
rss_panel((1224, 672, 1606, 933), rss_c2, 'C2 TOP2A+ TCs', (.054, .662), [.2, .4, .6],
          [('MYBL2', 1.65, .633), ('MYBL1', -1, .543), ('E2F8', 2.9, .50), ('E2F7', 4.7, .466), ('E2F1', 4.85, .413)], [])
rss_panel((1224, 993, 1606, 1254), rss_c3, 'C3 TEX41+ TCs', (.130, .467), [.2, .3, .4],
          [('FOXO1', 4.7, .458), ('FOXJ3', -1, .44), ('PBX1', -1, .4185), ('ELF1', 3.9, .39), ('NFATC2', .4, .326)],
          [(1, .451, 4.6, .458)])

g_boxes = [(47, 1377, 277, 1573), (314, 1377, 545, 1573), (583, 1377, 813, 1573),
           (851, 1377, 1081, 1573), (1120, 1377, 1350, 1573)]
for b, hits, n in zip(g_boxes, regulon_hits, regulon_names):
    regulon_panel(b, hits, n)
density_panel()

sub_colors = ['#9ADBB3', '#BFF2CF', '#CFA9E8', '#DB8230']
phase_colors = ['#CFE8F4', '#FFB9CB', '#4DBD89']
group_colors = ['#0CBBC6', '#C8FF61']

violin_panel((60, 1646, 594, 1997), subtype_names, sub_y, sub_w, sub_mean, sub_colors,
             ['#E8F6EE', '#F2FBF4', '#F4EBFA', '#F6E5D6'], (.4, 4.6), (-.022, .471), [0, .1, .2, .3, .4],
             [(1, 2, .264), (1, 3, .289), (1, 4, .314), (2, 3, .339), (2, 4, .364), (3, 4, .390)], 'Subtype', 45, 8, 2073, -2.5)
violin_panel((755, 1645, 1074, 1997), phase_names, phase_y, phase_w, phase_mean, phase_colors,
             ['#F3FAFE', '#FFF0F3', '#DAF0E4'], (.404, 3.596), (-.0177, .381), [0, .1, .2, .3],
             [(1, 2, .265), (1, 3, .29), (2, 3, .315)], 'Phase', 60, 6.8, 2030, -1)
violin_panel((1230, 1648, 1532, 1998), group_names, group_y, group_w, group_mean, group_colors,
             ['#CDF1F3', '#F1FCDE'], (.4, 2.6), (-.0146, .3194), [0, .1, .2, .3],
             [(1, 2, .265)], 'Group', 52, 7.5, 2072, 1)

# overlay in pixels for the panel letters and the legends
ov = fig.add_axes([0, 0, 1, 1], zorder=10)
ov.set_xlim(0, W)
ov.set_ylim(H, 0)
ov.axis('off')
ov.patch.set_alpha(0)
letters = ['A', 'B', 'C', 'D', 'E', 'F', 'G', 'H', 'I', 'J', 'K']
letter_x = [11, 11, 750, 750, 750, 750, 11, 1367, 5, 720, 1184]
letter_y = [21, 603, 15, 321, 636, 950, 1341, 1341, 1617, 1617, 1617]
for s, x, y in zip(letters, letter_x, letter_y):
    ov.text(x, y, s, fontsize=18.5, fontweight='bold', ha='center', va='center', color='black')

legend_px(ov, 'Subtype:', subtype_names, sub_colors, 610, 621, 1806, 1852, 1796, 627)
legend_px(ov, 'Phase:', phase_names, phase_colors, 1089, 1099, 1813, 1845, 1803, 1104)
legend_px(ov, 'Group:', group_names, group_colors, 1548, 1560, 1819, 1843, 1809, 1565)

fig.savefig('out.png', dpi=100)
